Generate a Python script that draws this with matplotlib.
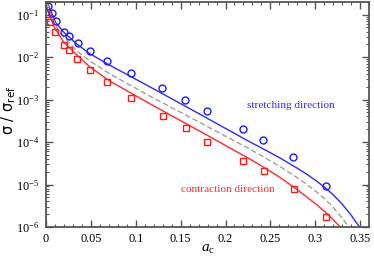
import matplotlib
matplotlib.use("Agg")
import matplotlib.pyplot as plt
from matplotlib.ticker import LogLocator, MultipleLocator, NullFormatter

plt.rcParams["font.family"] = "Liberation Serif"
plt.rcParams["mathtext.fontset"] = "custom"
plt.rcParams["mathtext.rm"] = "Liberation Serif"
plt.rcParams["mathtext.it"] = "Liberation Serif:italic"

# symbols
stretch_x = [0.0026, 0.0063, 0.0107, 0.0204, 0.0256, 0.0352, 0.0493, 0.0678, 0.0952,
             0.1297, 0.1552, 0.1797, 0.2192, 0.2422, 0.2756, 0.3119]
stretch_y = [0.158, 0.111, 0.071, 0.040, 0.032, 0.0218, 0.0139, 0.0081, 0.0042,
             0.00184, 0.0010, 5.4e-4, 2.0e-4, 1.1e-4, 4.5e-5, 9.2e-6]
contr_x = [0.0019, 0.0044, 0.0100, 0.0200, 0.0252, 0.0348, 0.0489, 0.0674, 0.0952,
           0.130, 0.1556, 0.1796, 0.2196, 0.2426, 0.276, 0.312]
contr_y = [0.104, 0.0686, 0.038, 0.0195, 0.0144, 0.0090, 0.0050, 0.0026, 0.00111,
           4.0e-4, 2.1e-4, 1.0e-4, 3.6e-5, 2.1e-5, 7.7e-6, 1.7e-6]

# fitted curves
blue_x = [0.0015, 0.0033, 0.0108, 0.020, 0.0348, 0.0492, 0.0711, 0.1156, 0.170,
          0.2267, 0.24, 0.26, 0.28, 0.29, 0.30, 0.31, 0.32, 0.33, 0.34, 0.35, 0.355]
blue_y = [0.21, 0.154, 0.065, 0.038, 0.0199, 0.0119, 0.00643, 0.0020, 4.7e-4,
          1.02e-4, 7.29e-5, 4.30e-5, 2.42e-5, 1.78e-5, 1.27e-5, 8.77e-6, 5.73e-6, 3.45e-6,
          1.90e-6, 9.5e-7, 6.6e-7]
grey_x = [0.0015, 0.003, 0.0126, 0.020, 0.0348, 0.0492, 0.0711, 0.1156, 0.170,
          0.2267, 0.24, 0.26, 0.28, 0.30, 0.31, 0.32, 0.33, 0.34]
grey_y = [0.19, 0.14, 0.047, 0.029, 0.0137, 0.0080, 0.00403, 0.00121, 2.99e-4,
          6.9e-5, 4.81e-5, 2.70e-5, 1.45e-5, 7.11e-6, 4.70e-6, 2.90e-6, 1.63e-6, 8.36e-7]
red_x = [0.0011, 0.0044, 0.010, 0.020, 0.0348, 0.0492, 0.0711, 0.1156, 0.170,
         0.2267, 0.24, 0.26, 0.28, 0.30, 0.31, 0.32, 0.33]
red_y = [0.148, 0.089, 0.047, 0.0222, 0.011, 0.00578, 0.00272, 8.0e-4, 1.87e-4,
         4.03e-5, 2.76e-5, 1.50e-5, 7.57e-6, 3.57e-6, 2.36e-6, 1.49e-6, 8.77e-7]

ytick_vals = [1e-6, 1e-5, 1e-4, 1e-3, 1e-2, 1e-1]
ytick_text = ["10$^{-6}$", "10$^{-5}$", "10$^{-4}$", "10$^{-3}$", "10$^{-2}$", "10$^{-1}$"]
xtick_vals = [0, 0.05, 0.1, 0.15, 0.2, 0.25, 0.3, 0.35]
xtick_text = ["0", "0.05", "0.1", "0.15", "0.2", "0.25", "0.3", "0.35"]

fig = plt.figure(figsize=(3.74, 2.58), dpi=100)
ax = fig.add_axes([0.123, 0.120, 0.864, 0.873])

ax.plot(blue_x, blue_y, color="#2b2bff", lw=1.0)
ax.plot(grey_x, grey_y, color="#a0a0a0", lw=1.0, ls=(0, (4, 2)))
ax.plot(red_x, red_y, color="#ff2b2b", lw=1.0)
ax.plot(stretch_x, stretch_y, "o", ms=5, mfc="none", mec="#1a1aff", mew=1.0)
ax.plot(contr_x, contr_y, "s", ms=4.5, mfc="none", mec="#ff1a1a", mew=1.0)

ax.set_yscale("log")
ax.set_xticks(xtick_vals)
ax.set_xticklabels(xtick_text)
ax.xaxis.set_minor_locator(MultipleLocator(0.01))
ax.set_yticks(ytick_vals)
ax.set_yticklabels(ytick_text)
ax.yaxis.set_minor_locator(LogLocator(base=10, subs=range(2, 10), numticks=20))
ax.yaxis.set_minor_formatter(NullFormatter())
ax.set_xlim(0, 0.36)
ax.set_ylim(1e-6, 0.2)

ax.tick_params(which="both", direction="in", top=True, right=True, colors="#555555",
               labelcolor="black", labelsize=8.8)
ax.tick_params(axis="y", which="major", pad=5)
ax.tick_params(axis="x", which="major", pad=4)
ax.tick_params(which="major", length=5, width=1.0)
ax.tick_params(which="minor", length=2.5, width=0.8)
for s in ax.spines.values():
    s.set_color("#555555")
    s.set_linewidth(1.3)

ax.set_xlabel("$a_{\\rm c}$", fontsize=11, labelpad=-1)
ax.set_ylabel("σ / σ$_{\\mathsf{ref}}$", fontsize=10.5, family="DejaVu Sans")
ax.yaxis.set_label_coords(-0.088, 0.52)

ax.text(0.224, 7.1e-4, "stretching direction", color="#2b2bff", fontsize=8.1, ha="left", va="center")
ax.text(0.150, 7.7e-6, "contraction direction", color="#ff2b2b", fontsize=8.1, ha="left", va="center")

fig.savefig("out.png", dpi=100)
